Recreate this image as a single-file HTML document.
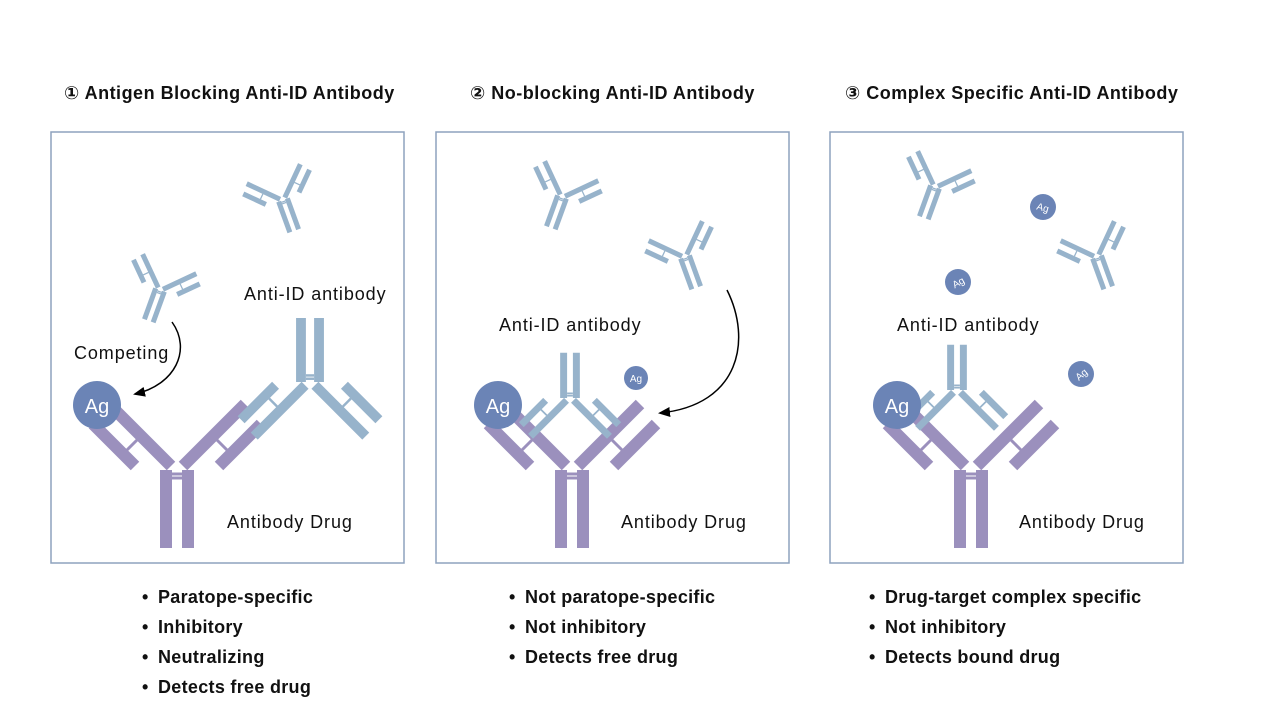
<!DOCTYPE html>
<html><head><meta charset="utf-8"><style>
body{margin:0;background:#fff;}
svg{display:block;font-family:"Liberation Sans","DejaVu Sans",sans-serif;}
.t{font-weight:bold;font-size:18px;letter-spacing:0.5px;fill:#111;}
.l{font-size:18px;letter-spacing:0.9px;fill:#111;}
.b{font-weight:bold;font-size:18px;letter-spacing:0.3px;fill:#111;}
</style></head><body>
<svg width="1269" height="724" viewBox="0 0 1269 724" xmlns="http://www.w3.org/2000/svg">
<defs>
<g id="ab">
<g stroke-width="12" stroke-linecap="butt">
<line x1="-11" y1="0" x2="-11" y2="78"/>
<line x1="11" y1="0" x2="11" y2="78"/>
<line x1="-6" y1="-4" x2="-68" y2="-66"/>
<line x1="6" y1="-4" x2="68" y2="-66"/>
<line x1="-42" y1="-4" x2="-84" y2="-46"/>
<line x1="42" y1="-4" x2="84" y2="-46"/>
</g>
<g stroke-width="3">
<line x1="-5" y1="4" x2="5" y2="4"/><line x1="-5" y1="8" x2="5" y2="8"/>
<line x1="-40" y1="-30" x2="-50" y2="-20"/>
<line x1="40" y1="-30" x2="50" y2="-20"/>
</g>
</g>
<marker id="ar" markerWidth="12" markerHeight="10" refX="10" refY="5" orient="auto" markerUnits="userSpaceOnUse"><path d="M0,0 L12,5 L0,10 z" fill="#000"/></marker>
</defs>

<text class="t" x="64" y="99">① Antigen Blocking Anti-ID Antibody</text>
<text class="t" x="470" y="99">② No-blocking Anti-ID Antibody</text>
<text class="t" x="845" y="99">③ Complex Specific Anti-ID Antibody</text>

<rect x="51" y="132" width="353" height="431" fill="none" stroke="#8ea2bd" stroke-width="1.5"/>
<rect x="436" y="132" width="353" height="431" fill="none" stroke="#8ea2bd" stroke-width="1.5"/>
<rect x="830" y="132" width="353" height="431" fill="none" stroke="#8ea2bd" stroke-width="1.5"/>

<!-- Panel 1 -->
<use href="#ab" transform="translate(177,470)" stroke="#9b90bd"/>
<use href="#ab" transform="translate(310,382) rotate(180) scale(0.82)" stroke="#97b3cb"/>
<use href="#ab" transform="translate(283,200) rotate(-20) scale(0.42)" stroke="#97b3cb"/>
<use href="#ab" transform="translate(160,290) rotate(20) scale(0.42)" stroke="#97b3cb"/>
<circle cx="97" cy="405" r="24" fill="#6b84b6"/>
<text x="97" y="413" font-size="20" fill="#fff" text-anchor="middle">Ag</text>
<path d="M172,322 C192,350 175,385 135,394" fill="none" stroke="#000" stroke-width="1.5" marker-end="url(#ar)"/>
<text class="l" x="74" y="359">Competing</text>
<text class="l" x="244" y="300">Anti-ID antibody</text>
<text class="l" x="227" y="528">Antibody Drug</text>

<!-- Panel 2 -->
<use href="#ab" transform="translate(572,470)" stroke="#9b90bd"/>
<use href="#ab" transform="translate(570,398) rotate(180) scale(0.58)" stroke="#97b3cb"/>
<use href="#ab" transform="translate(562,197) rotate(20) scale(0.42)" stroke="#97b3cb"/>
<use href="#ab" transform="translate(685,257) rotate(-20) scale(0.42)" stroke="#97b3cb"/>
<circle cx="498" cy="405" r="24" fill="#6b84b6"/>
<text x="498" y="413" font-size="20" fill="#fff" text-anchor="middle">Ag</text>
<circle cx="636" cy="378" r="12" fill="#6b84b6"/>
<text x="636" y="382" font-size="10" fill="#fff" text-anchor="middle">Ag</text>
<path d="M727,290 C752,340 740,405 660,413" fill="none" stroke="#000" stroke-width="1.5" marker-end="url(#ar)"/>
<text class="l" x="499" y="331">Anti-ID antibody</text>
<text class="l" x="621" y="528">Antibody Drug</text>

<!-- Panel 3 -->
<use href="#ab" transform="translate(971,470)" stroke="#9b90bd"/>
<use href="#ab" transform="translate(957,390) rotate(180) scale(0.58)" stroke="#97b3cb"/>
<use href="#ab" transform="translate(935,187) rotate(20) scale(0.42)" stroke="#97b3cb"/>
<use href="#ab" transform="translate(1097,257) rotate(-20) scale(0.42)" stroke="#97b3cb"/>
<circle cx="897" cy="405" r="24" fill="#6b84b6"/>
<text x="897" y="413" font-size="20" fill="#fff" text-anchor="middle">Ag</text>
<g font-size="10" fill="#fff" text-anchor="middle">
<circle cx="1043" cy="207" r="13" fill="#6b84b6"/><text x="1043" y="211" transform="rotate(15 1043 207)">Ag</text>
<circle cx="958" cy="282" r="13" fill="#6b84b6"/><text x="958" y="286" transform="rotate(-30 958 282)">Ag</text>
<circle cx="1081" cy="374" r="13" fill="#6b84b6"/><text x="1081" y="378" transform="rotate(-40 1081 374)">Ag</text>
</g>
<text class="l" x="897" y="331">Anti-ID antibody</text>
<text class="l" x="1019" y="528">Antibody Drug</text>

<!-- Bullets -->
<g class="b">
<text class="b" x="142" y="603">•</text><text class="b" x="158" y="603">Paratope-specific</text>
<text class="b" x="142" y="633">•</text><text class="b" x="158" y="633">Inhibitory</text>
<text class="b" x="142" y="663">•</text><text class="b" x="158" y="663">Neutralizing</text>
<text class="b" x="142" y="693">•</text><text class="b" x="158" y="693">Detects free drug</text>
<text class="b" x="509" y="603">•</text><text class="b" x="525" y="603">Not paratope-specific</text>
<text class="b" x="509" y="633">•</text><text class="b" x="525" y="633">Not inhibitory</text>
<text class="b" x="509" y="663">•</text><text class="b" x="525" y="663">Detects free drug</text>
<text class="b" x="869" y="603">•</text><text class="b" x="885" y="603">Drug-target complex specific</text>
<text class="b" x="869" y="633">•</text><text class="b" x="885" y="633">Not inhibitory</text>
<text class="b" x="869" y="663">•</text><text class="b" x="885" y="663">Detects bound drug</text>
</g>
</svg>
</body></html>
